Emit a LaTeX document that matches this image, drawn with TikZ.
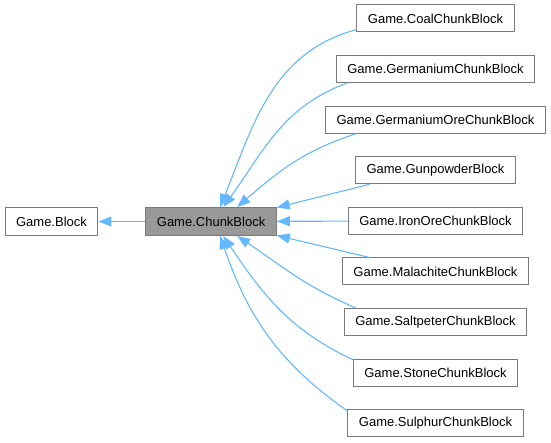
\documentclass[tikz,border=0pt]{standalone}
\usepackage{fontspec}
\setmainfont{Liberation Sans}
\usetikzlibrary{positioning, arrows.meta}

\definecolor{edgeblue}{HTML}{63B8FF}
\definecolor{boxgray}{HTML}{7A7A7A}
\definecolor{chunkgray}{HTML}{999999}

\begin{document}
\begin{tikzpicture}[x=1pt, y=1pt,
	font=\fontsize{13}{15}\selectfont,
	classbox/.style={draw=boxgray, line width=1pt, fill=white,
		minimum height=27pt, inner xsep=11pt, inner ysep=0pt},
	inherit/.style={draw=edgeblue, line width=1.1pt,
		-{Triangle[length=13pt, width=10pt]}}]
	\useasboundingbox (0,0) rectangle (551,-443);

	% Add the base classes
	\node[classbox, minimum height=28pt] (block) at (51.5,-221.5) {Game.Block};
	\node[classbox,
		  minimum height=28pt,
		  fill=chunkgray,
		  right=47pt of block] (chunk) {Game.ChunkBlock};

	% Add the derived blocks
	\node[classbox] (coal) at (435.5,-18.5) {Game.CoalChunkBlock};
	\node[classbox, below=22.6pt of coal] (germanium) {Game.GermaniumChunkBlock};
	\node[classbox, below=22.6pt of germanium] (germore) {Game.GermaniumOreChunkBlock};
	\node[classbox, below=22.6pt of germore] (gunpowder) {Game.GunpowderBlock};
	\node[classbox, below=22.6pt of gunpowder] (ironore) {Game.IronOreChunkBlock};
	\node[classbox, below=22.6pt of ironore] (malachite) {Game.MalachiteChunkBlock};
	\node[classbox, below=22.6pt of malachite] (saltpeter) {Game.SaltpeterChunkBlock};
	\node[classbox, below=22.6pt of saltpeter] (stone) {Game.StoneChunkBlock};
	\node[classbox, below=22.6pt of stone] (sulphur) {Game.SulphurChunkBlock};

	% Inheritance arrows
	\draw[inherit] (chunk) -- (block);
	\draw[inherit] (coal.188) to[out=195, in=68] (chunk.58);
	\draw[inherit] (germanium.189) to[out=200, in=54] (chunk.50);
	\draw[inherit] (germore.190) to[out=198, in=41] (chunk.29);
	\draw[inherit] (gunpowder.192) -- (chunk.12);
	\draw[inherit] (ironore) -- (chunk);
	\draw[inherit] (malachite.168) -- (chunk.-12);
	\draw[inherit] (saltpeter.170) to[out=157, in=-34] (chunk.-29);
	\draw[inherit] (stone.171) to[out=155, in=-56] (chunk.-50);
	\draw[inherit] (sulphur.172) to[out=145, in=-71] (chunk.-58);
\end{tikzpicture}
\end{document}
